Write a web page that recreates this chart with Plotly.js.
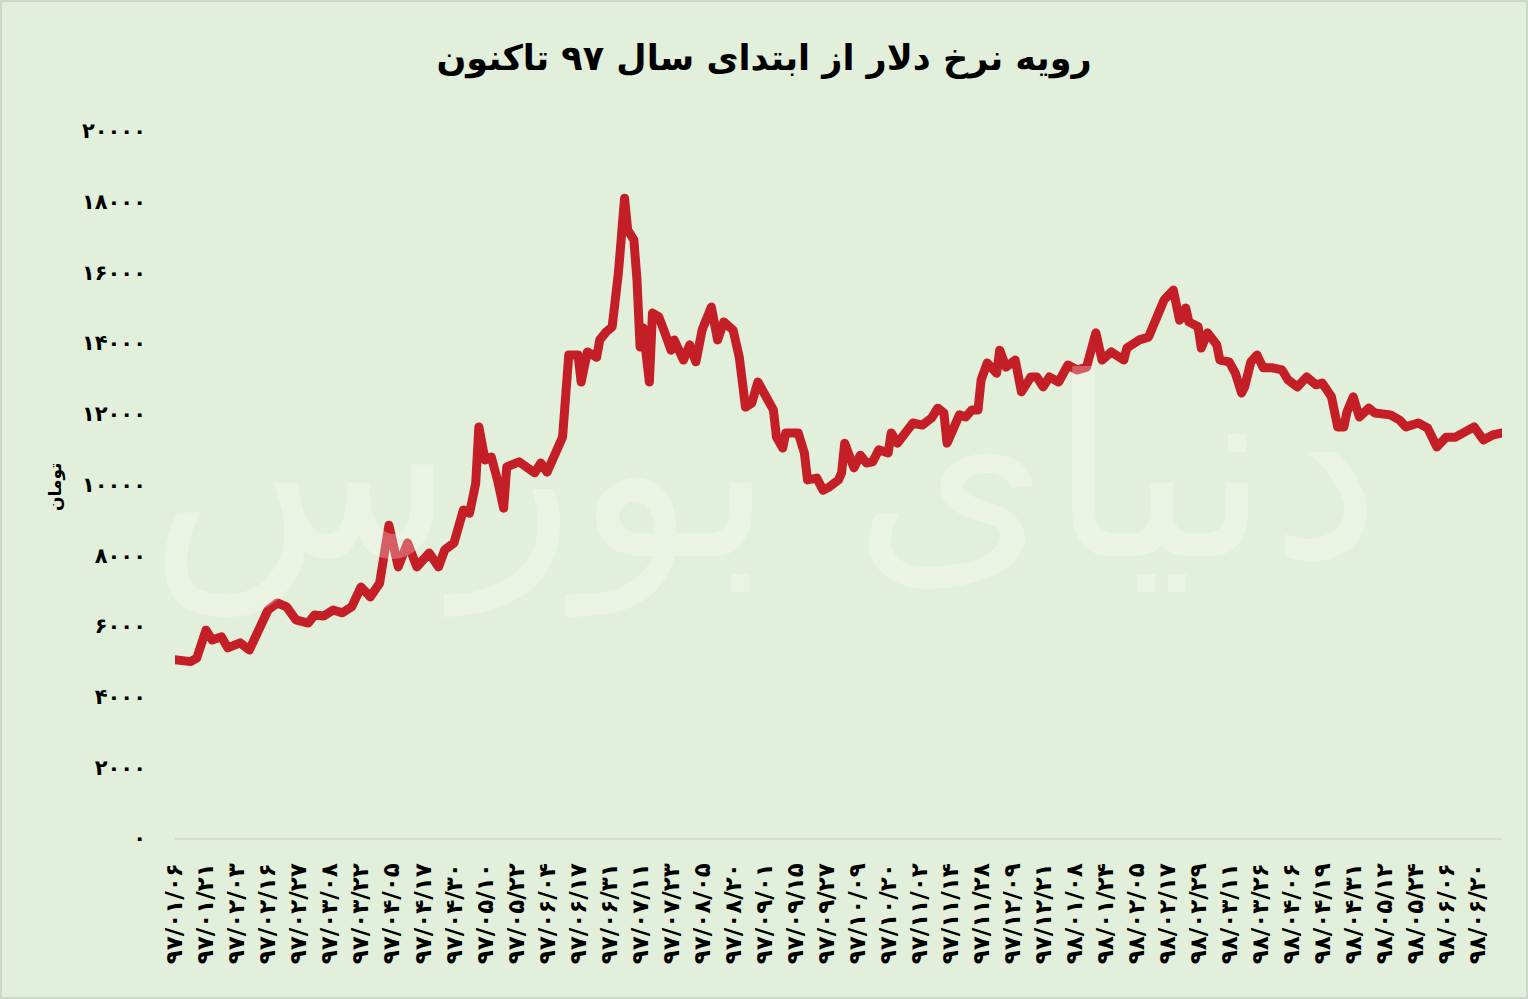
<!DOCTYPE html>
<html>
<head>
<meta charset="utf-8">
<script src="https://cdn.plot.ly/plotly-3.0.1.min.js"></script>
<style>
  html, body { margin: 0; padding: 0; background: #e2efda; }
  #wrap { position: relative; width: 1528px; height: 999px; }
  #chart { width: 1528px; height: 999px; }
  #frame { position: absolute; left: 0; top: 0; width: 1528px; height: 999px; box-sizing: border-box; border: 2px solid #cfd6cc; pointer-events: none; }
  path.js-line { stroke-linejoin: round !important; stroke-linecap: round !important; }
</style>
</head>
<body>
<div id="wrap"><div id="chart"></div><div id="frame"></div></div>
<script>
// Trading-day index (from start of 1397) and dollar rate in toman
const dayIndex = [0,5,7,10,12,15,17,21,24,27,30,33,36,39,43,45,48,51,54,57,60,63,66,69,72,75,78,82,85,87,90,93,95,97,98,100,102,104,106,107,111,116,118,120,123,125,127,130,131,133,136,137,139,141,143,145,146,148,149,150,151,153,154,156,158,160,161,164,166,168,170,173,175,177,180,182,184,186,188,190,193,194,196,197,201,203,204,207,209,211,214,215,216,218,219,221,223,225,227,230,231,233,236,238,241,244,246,248,249,251,253,255,257,259,260,262,265,266,268,271,273,276,278,280,282,285,288,291,294,297,299,302,306,307,311,314,317,319,322,324,326,327,330,331,333,336,337,340,342,344,345,347,349,351,354,357,359,362,365,368,370,373,375,377,378,380,382,385,387,390,392,395,397,401,404,407,410,413,416,419,422,425,428];
const rateToman = [5040,4990,5090,5880,5600,5690,5380,5520,5320,5830,6450,6650,6540,6170,6080,6310,6280,6450,6370,6540,7100,6820,7210,8850,7670,8350,7670,8060,7670,8150,8350,9280,9190,10040,11630,10690,10780,10130,9330,10500,10640,10330,10610,10350,10980,11340,13660,13660,12900,13750,13600,14090,14310,14460,15980,18100,17200,16920,15790,13890,14430,12900,14850,14750,14290,13800,14090,13520,13950,13470,14370,15020,14090,14600,14370,13600,12190,12300,12900,12580,12110,11340,11030,11460,11460,10890,10130,10180,9840,9930,10130,10330,11170,10690,10470,10830,10610,10640,10980,10890,11460,11170,11540,11740,11680,11880,12160,12020,11170,11540,11970,11910,12110,12110,12960,13440,13150,13800,13320,13520,12620,13040,13040,12760,13040,12900,13380,13240,13320,14290,13520,13750,13520,13860,14090,14170,14740,15220,15500,14650,14990,14600,14460,13860,14290,13950,13520,13470,13150,12590,12760,13470,13660,13300,13300,13240,12960,12760,13040,12820,12870,12480,11630,11630,12050,12480,11910,12160,12020,11970,11970,11820,11630,11740,11600,11060,11340,11340,11490,11630,11260,11400,11460];

// Date labels shown every 10 trading days
const dateLabels = ['۹۷/۰۱/۰۶','۹۷/۰۱/۲۱','۹۷/۰۲/۰۳','۹۷/۰۲/۱۶','۹۷/۰۲/۲۷','۹۷/۰۳/۰۸','۹۷/۰۳/۲۲','۹۷/۰۴/۰۵','۹۷/۰۴/۱۷','۹۷/۰۴/۳۰','۹۷/۰۵/۱۰','۹۷/۰۵/۲۲','۹۷/۰۶/۰۴','۹۷/۰۶/۱۷','۹۷/۰۶/۳۱','۹۷/۰۷/۱۱','۹۷/۰۷/۲۳','۹۷/۰۸/۰۵','۹۷/۰۸/۲۰','۹۷/۰۹/۰۱','۹۷/۰۹/۱۵','۹۷/۰۹/۲۷','۹۷/۱۰/۰۹','۹۷/۱۰/۲۰','۹۷/۱۱/۰۲','۹۷/۱۱/۱۴','۹۷/۱۱/۲۸','۹۷/۱۲/۰۹','۹۷/۱۲/۲۱','۹۸/۰۱/۰۸','۹۸/۰۱/۲۴','۹۸/۰۲/۰۵','۹۸/۰۲/۱۷','۹۸/۰۲/۲۹','۹۸/۰۳/۱۱','۹۸/۰۳/۲۶','۹۸/۰۴/۰۶','۹۸/۰۴/۱۹','۹۸/۰۴/۳۱','۹۸/۰۵/۱۲','۹۸/۰۵/۲۴','۹۸/۰۶/۰۶','۹۸/۰۶/۲۰'];
const labelStep = 10;

const yTickValues = [0,2000,4000,6000,8000,10000,12000,14000,16000,18000,20000];
const yTickLabels = ['۰','۲۰۰۰','۴۰۰۰','۶۰۰۰','۸۰۰۰','۱۰۰۰۰','۱۲۰۰۰','۱۴۰۰۰','۱۶۰۰۰','۱۸۰۰۰','۲۰۰۰۰'];

const chartTitle = 'رویه نرخ دلار از ابتدای سال ۹۷ تاکنون';
const yAxisTitle = 'تومان';
const watermarkText = 'دنیای بورس';

const FONT = 'DejaVu Sans, Noto Sans, sans-serif';

const trace = {
  x: dayIndex,
  y: rateToman,
  type: 'scatter',
  mode: 'lines',
  line: { color: '#c41f27', width: 9, shape: 'linear' },
  hoverinfo: 'x+y'
};

const layout = {
  width: 1528,
  height: 999,
  margin: { l: 175, r: 26, t: 131, b: 161 },
  paper_bgcolor: '#e2efda',
  plot_bgcolor: '#e2efda',
  showlegend: false,
  title: {
    text: chartTitle,
    xref: 'container', x: 0.5, xanchor: 'center',
    yref: 'container', y: 1 - 58 / 999, yanchor: 'middle',
    font: { family: FONT, size: 35, color: '#000', weight: 'bold' }
  },
  xaxis: {
    range: [0, dayIndex[dayIndex.length - 1]],
    tickmode: 'array',
    tickvals: dateLabels.map((_, i) => i * labelStep),
    ticktext: dateLabels,
    tickangle: -90,
    ticks: '',
    ticklabelstandoff: 14,
    tickfont: { family: FONT, size: 23, color: '#000', weight: 'bold' },
    showgrid: false,
    zeroline: false,
    showline: true,
    linecolor: '#d5dcd2',
    linewidth: 2,
    fixedrange: true
  },
  yaxis: {
    range: [0, 20000],
    tickmode: 'array',
    tickvals: yTickValues,
    ticktext: yTickLabels,
    ticks: '',
    ticklabelstandoff: 28,
    tickfont: { family: FONT, size: 21, color: '#000', weight: 'bold' },
    showgrid: false,
    zeroline: false,
    showline: false,
    fixedrange: true
  },
  annotations: [{
    text: yAxisTitle,
    xref: 'paper', yref: 'paper',
    x: (55 - 175) / 1327, y: (838 - 487) / 707,
    xanchor: 'center', yanchor: 'middle',
    textangle: -90,
    showarrow: false,
    font: { family: FONT, size: 17, color: '#000', weight: 'bold' }
  }, {
    text: watermarkText,
    xref: 'paper', yref: 'paper',
    x: (765 - 175) / 1327, y: (838 - 470) / 707,
    xanchor: 'center', yanchor: 'middle',
    showarrow: false,
    opacity: 0.28,
    font: { family: FONT, size: 250, color: '#ffffff' }
  }]
};

Plotly.newPlot('chart', [trace], layout, { displayModeBar: false, staticPlot: true });
</script>
</body>
</html>
